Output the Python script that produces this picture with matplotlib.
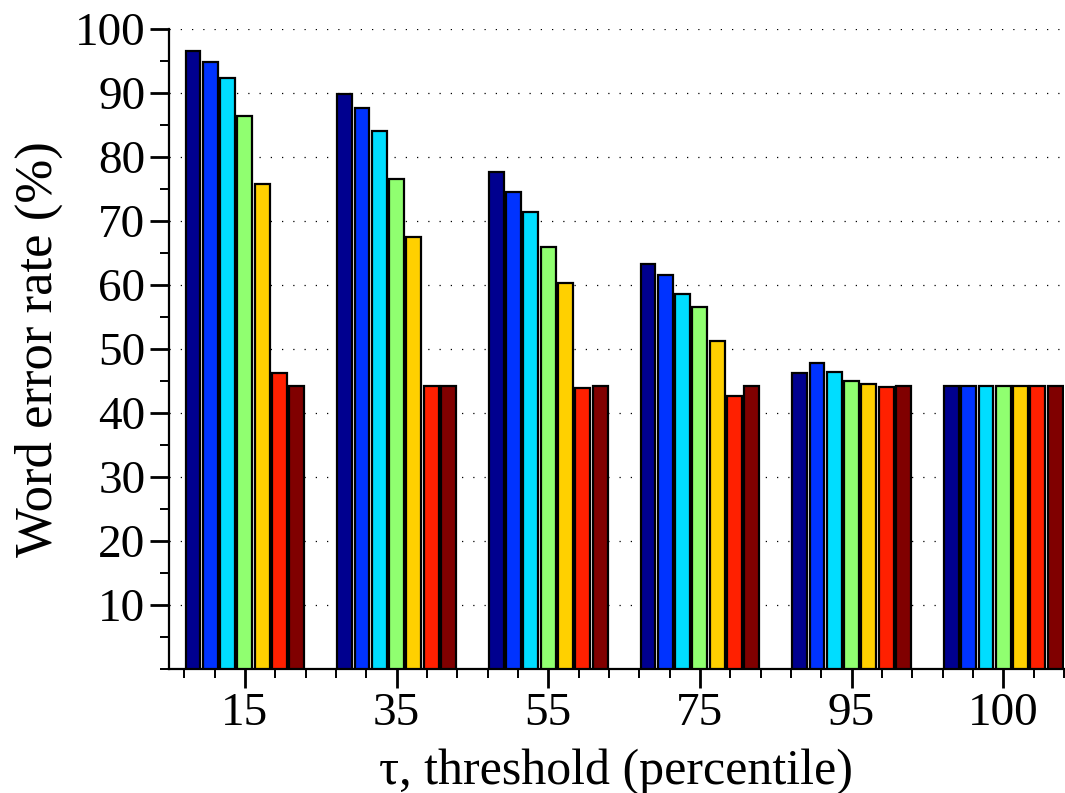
import numpy as np
import matplotlib.pyplot as plt
from matplotlib.ticker import MultipleLocator, FixedLocator

plt.rcParams['font.family'] = ['Liberation Serif', 'DejaVu Serif']

thresholds = ['15', '35', '55', '75', '95', '100']
colors = ['#00008f', '#0033ff', '#00ddff', '#90ff70', '#ffd000', '#ff2000', '#800000']

# word error rate (%) per threshold, one list per bar colour
s1 = [96.5, 89.8, 77.7, 63.3, 46.2, 44.2]
s2 = [94.8, 87.7, 74.6, 61.5, 47.8, 44.2]
s3 = [92.3, 84.1, 71.4, 58.6, 46.4, 44.2]
s4 = [86.4, 76.5, 65.9, 56.6, 45.0, 44.2]
s5 = [75.8, 67.5, 60.3, 51.2, 44.6, 44.2]
s6 = [46.2, 44.2, 43.9, 42.6, 44.0, 44.2]
s7 = [44.2, 44.2, 44.2, 44.2, 44.2, 44.2]
series = [s1, s2, s3, s4, s5, s6, s7]

fig = plt.figure(figsize=(10.65, 7.93), dpi=100)
ax = fig.add_axes([0.1587, 0.1564, 0.8403, 0.807])

x = np.arange(1, len(thresholds) + 1)
step = 0.114
for i, (vals, c) in enumerate(zip(series, colors)):
    ax.bar(x + (i - 3) * step, vals, width=0.098, color=c,
           edgecolor='black', linewidth=1.6, zorder=3)

ax.set_xlim(0.5, 6.4)
ax.set_ylim(0, 100)
ax.set_xticks(x)
ax.set_xticklabels(thresholds)
ax.xaxis.set_minor_locator(FixedLocator(np.arange(0.6, 6.41, 0.2)))
ax.set_yticks(np.arange(10, 101, 10))
ax.yaxis.set_minor_locator(MultipleLocator(5))

ax.grid(axis='y', color='black', linestyle=(0, (1, 8)), linewidth=0.9, zorder=0)
ax.set_axisbelow(True)

for s in ['top', 'right']:
    ax.spines[s].set_visible(False)
for s in ['left', 'bottom']:
    ax.spines[s].set_linewidth(1.6)

ax.tick_params(which='major', direction='out', length=13.5, width=2.0, labelsize=34, pad=3.6)
ax.tick_params(which='minor', direction='out', length=6.5, width=1.4)

ax.set_ylabel('Word error rate (%)', fontsize=38)
ax.set_xlabel('τ, threshold (percentile)', fontsize=36)
ax.yaxis.set_label_coords(-0.118, 0.5)
ax.xaxis.set_label_coords(0.5, -0.124)

fig.savefig('out.png', dpi=100)
